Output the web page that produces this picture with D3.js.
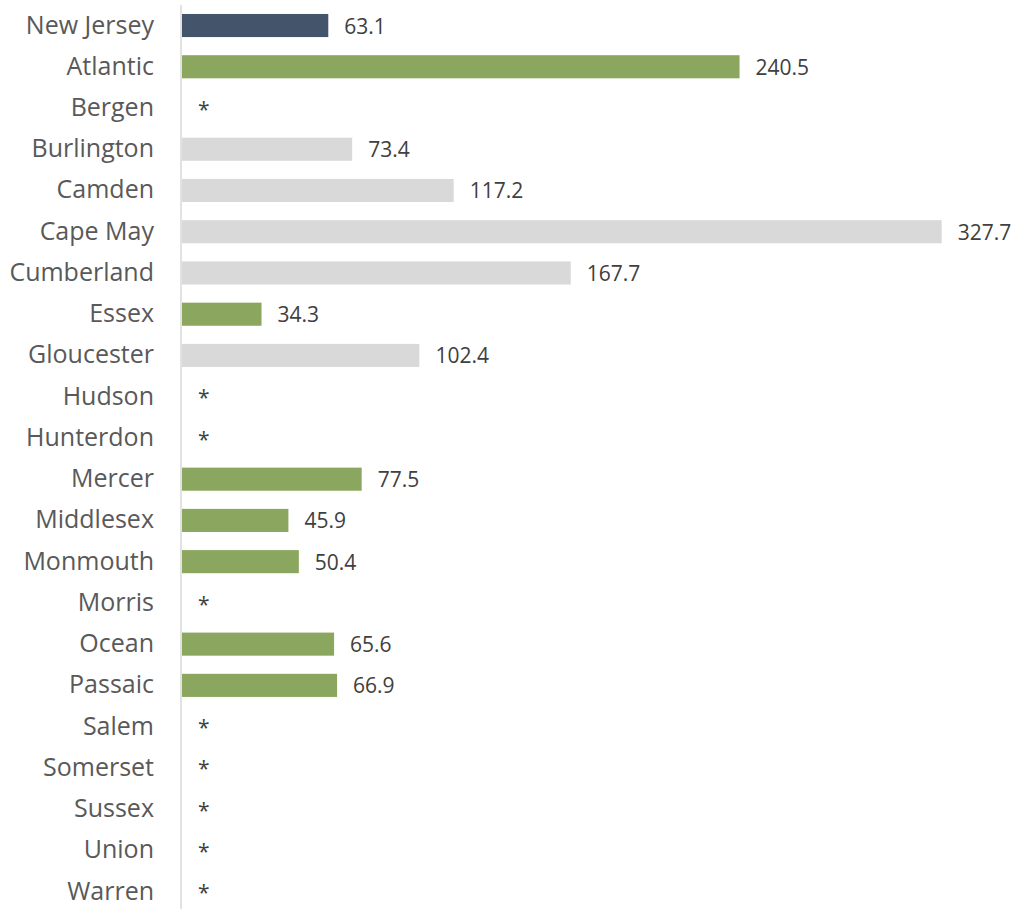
<!DOCTYPE html>
<html>
<head>
<meta charset="utf-8">
<script src="https://cdn.jsdelivr.net/npm/d3@7"></script>
<style>
  html, body { margin: 0; padding: 0; background: #fff; }
  svg { display: block; }
</style>
</head>
<body>
<svg id="chart" width="1016" height="909"></svg>
<script>
// County names, top to bottom
const categories = ["New Jersey", "Atlantic", "Bergen", "Burlington", "Camden", "Cape May",
  "Cumberland", "Essex", "Gloucester", "Hudson", "Hunterdon", "Mercer", "Middlesex",
  "Monmouth", "Morris", "Ocean", "Passaic", "Salem", "Somerset", "Sussex", "Union", "Warren"];
// Rates; null = suppressed (shown as *)
const values = [63.1, 240.5, null, 73.4, 117.2, 327.7, 167.7, 34.3, 102.4, null, null, 77.5,
  45.9, 50.4, null, 65.6, 66.9, null, null, null, null, null];
// Bar group: state total, significantly different, not significant
const groups = ["state", "sig", "none", "ns", "ns", "ns", "ns", "sig", "ns", "none", "none", "sig",
  "sig", "sig", "none", "sig", "sig", "none", "none", "none", "none", "none"];

const colors = { state: "#44546A", sig: "#8BA65E", ns: "#D9D9D9", none: "#D9D9D9" };
const font = "'Open Sans', sans-serif";

const svg = d3.select("#chart");
const x0 = 182;
const x = d3.scaleLinear().domain([0, 327.7]).range([x0, 941.7]);
const y = d3.scaleBand().domain(categories).range([4.9, 912.2]).paddingInner(0.44).paddingOuter(0.22);

const data = categories.map((c, i) => ({ name: c, value: values[i], group: groups[i] }));

// Bars
svg.append("g").selectAll("rect")
  .data(data.filter(d => d.value != null))
  .join("rect")
  .attr("x", x(0))
  .attr("y", d => y(d.name))
  .attr("width", d => x(d.value) - x(0))
  .attr("height", y.bandwidth())
  .attr("fill", d => colors[d.group]);

// Value labels
svg.append("g").selectAll("text")
  .data(data)
  .join("text")
  .attr("x", d => (d.value == null ? x(0) : x(d.value)) + 16)
  .attr("y", d => y(d.name) + y.bandwidth() / 2)
  .attr("dy", d => d.value == null ? "0.41em" : "0.38em")
  .attr("font-family", font)
  .attr("font-size", 21)
  .attr("fill", "#404040")
  .text(d => d.value == null ? "*" : d.value.toFixed(1));

// Category axis
const axis = svg.append("g")
  .attr("transform", `translate(${x0 - 1},0)`)
  .call(d3.axisLeft(y).tickSize(0).tickPadding(27));
axis.select(".domain").remove();
axis.selectAll("text")
  .attr("font-family", font)
  .attr("font-size", 25)
  .attr("fill", "#595959");

svg.append("line")
  .attr("x1", x0 - 1).attr("x2", x0 - 1)
  .attr("y1", 5).attr("y2", 909)
  .attr("stroke", "#D9D9D9")
  .attr("stroke-width", 1.5);
</script>
</body>
</html>
